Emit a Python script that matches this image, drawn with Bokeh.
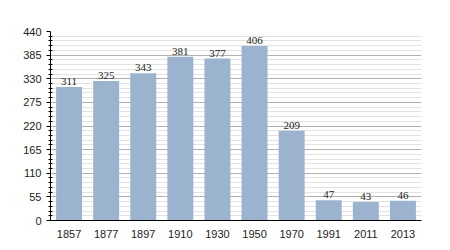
from bokeh.plotting import figure
from bokeh.models import ColumnDataSource, FixedTicker, LabelSet, Range1d
from bokeh.embed import file_html
from bokeh.resources import INLINE

years = ["1857", "1877", "1897", "1910", "1930", "1950", "1970", "1991", "2011", "2013"]
population = [311, 325, 343, 381, 377, 406, 209, 47, 43, 46]
y_ticks = [0, 55, 110, 165, 220, 275, 330, 385, 440]
y_minor = [v for v in range(0, 441, 11) if v % 55 != 0]

src = ColumnDataSource(data=dict(year=years, pop=population, lbl=[str(v) for v in population]))

p = figure(x_range=years, width=450, height=250, output_backend="svg", toolbar_location=None,
           min_border_left=50, min_border_right=29, min_border_top=31, min_border_bottom=30)
p.y_range = Range1d(0, 440)
p.x_range.range_padding = 0
p.outline_line_color = None
p.background_fill_color = "white"
p.border_fill_color = "white"

p.vbar(x="year", top="pop", width=0.7, source=src, fill_color="#9cb3cf", line_color=None)

labels = LabelSet(x="year", y="pop", text="lbl", source=src, text_align="center", y_offset=2,
                  text_font="Liberation Sans", text_font_size="11px", text_color="#222222")
p.add_layout(labels)

p.yaxis.ticker = FixedTicker(ticks=y_ticks, minor_ticks=y_minor)
p.ygrid.ticker = FixedTicker(ticks=y_ticks, minor_ticks=y_minor)
p.ygrid.grid_line_color = "#b0b0b0"
p.ygrid.minor_grid_line_color = "#e2e2e2"
p.xgrid.grid_line_color = None

for ax in (p.xaxis, p.yaxis):
    ax.axis_line_color = "black"
    ax.major_label_text_font = "Liberation Sans"
    ax.major_label_text_font_size = "11px"
    ax.major_label_text_color = "#222222"

p.yaxis.major_tick_out = 4
p.yaxis.major_tick_in = 0
p.yaxis.minor_tick_out = 2
p.yaxis.minor_tick_in = 2
p.yaxis.major_label_standoff = 5
p.xaxis.major_tick_line_color = None
p.xaxis.minor_tick_line_color = None
p.xaxis.major_label_standoff = 3

open("out.html", "w").write(file_html(p, INLINE))
